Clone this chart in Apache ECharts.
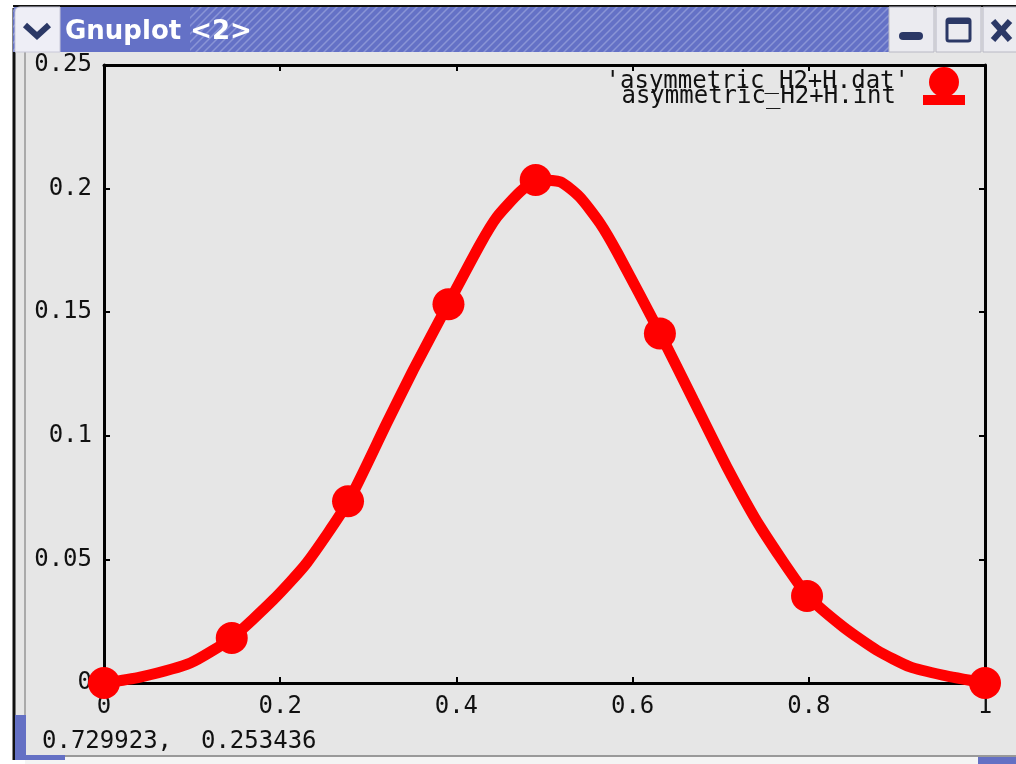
<!DOCTYPE html>
<html>
<head>
<meta charset="utf-8">
<script src="https://cdn.jsdelivr.net/npm/echarts@6/dist/echarts.min.js"></script>
<style>
  html, body { margin: 0; padding: 0; background: #fff; }
  #main { width: 1016px; height: 764px; }
</style>
</head>
<body>
<div id="main"></div>
<script>
// data
const datX = [0, 0.145, 0.277, 0.391, 0.490, 0.631, 0.798, 1]
const datY = [0, 0.0182, 0.0735, 0.1532, 0.2035, 0.1414, 0.0352, 0]

const intX = [0, 0.041, 0.098, 0.145, 0.192, 0.230, 0.277, 0.321, 0.351, 0.390, 0.427, 0.446, 0.472, 0.491, 0.518, 0.540, 0.563, 0.583, 0.631, 0.669, 0.707, 0.745, 0.798, 0.839, 0.877, 0.915, 0.952, 1]
const intY = [0, 0.0024, 0.0081, 0.0182, 0.0336, 0.0485, 0.0732, 0.1052, 0.1266, 0.1529, 0.1775, 0.1885, 0.1986, 0.2035, 0.2027, 0.1966, 0.1860, 0.1739, 0.1416, 0.1145, 0.0874, 0.0631, 0.0356, 0.0227, 0.0133, 0.0065, 0.0032, 0]

const seriesNames = ["'asymmetric_H2+H.dat'", 'asymmetric_H2+H.int']
const windowTitle = 'Gnuplot <2>'
const statusText = '0.729923,  0.253436'

const mono = "'DejaVu Sans Mono', monospace"

// hatch pattern for the title bar
const hatch = document.createElement('canvas')
hatch.width = 8
hatch.height = 8
const hctx = hatch.getContext('2d')
hctx.fillStyle = '#6471c6'
hctx.fillRect(0, 0, 8, 8)
hctx.strokeStyle = '#8a95d6'
hctx.lineWidth = 1.5
hctx.beginPath()
hctx.moveTo(0, 8); hctx.lineTo(8, 0)
hctx.moveTo(-2, 2); hctx.lineTo(2, -2)
hctx.moveTo(6, 10); hctx.lineTo(10, 6)
hctx.stroke()

const chart = echarts.init(document.getElementById('main'))

const axisCommon = {
  type: 'value',
  axisLine: { show: true, onZero: false, lineStyle: { color: '#000', width: 3 } },
  axisTick: { show: true, inside: true, length: 6, lineStyle: { color: '#000', width: 2 } },
  splitLine: { show: false },
}

const navy = '#2b3866'
const labelFont = { fontFamily: mono, fontSize: 24, color: '#111' }

chart.setOption({
  animation: false,
  backgroundColor: '#fff',
  grid: { left: 104, right: 31, top: 65, bottom: 81, show: true, backgroundColor: '#e6e6e6', borderWidth: 0 },
  legend: {
    orient: 'vertical',
    align: 'right',
    right: 51,
    top: 67,
    padding: 0,
    itemGap: -15,
    itemWidth: 42,
    itemHeight: 30,
    textStyle: Object.assign({ padding: [0, 9, 0, 0] }, labelFont),
    data: [
      { name: seriesNames[0], icon: 'circle' },
      {
        name: seriesNames[1],
        icon: 'path://M0,0L0.5,0L0.5,0.01L0,0.01Z M0,13L42,13L42,23L0,23Z M0,29.99L0.5,29.99L0.5,30L0,30Z',
        textStyle: { padding: [0, 22, 0, 0] },
      },
    ],
  },
  xAxis: [
    Object.assign({}, axisCommon, {
      position: 'bottom', min: 0, max: 1, interval: 0.2,
      axisLabel: Object.assign({ margin: 12 }, labelFont),
    }),
    Object.assign({}, axisCommon, {
      position: 'top', min: 0, max: 1, interval: 0.2,
      axisLabel: { show: false },
    }),
  ],
  yAxis: [
    Object.assign({}, axisCommon, {
      position: 'left', min: 0, max: 0.25, interval: 0.05,
      axisLabel: Object.assign({ margin: 12 }, labelFont),
    }),
    Object.assign({}, axisCommon, {
      position: 'right', min: 0, max: 0.25, interval: 0.05,
      axisLabel: { show: false },
    }),
  ],
  series: [
    {
      name: seriesNames[1],
      type: 'line',
      smooth: 0.2,
      showSymbol: false,
      clip: false,
      z: 3,
      lineStyle: { color: '#ff0000', width: 11 },
      itemStyle: { color: '#ff0000' },
      data: intX.map((x, i) => [x, intY[i]]),
    },
    {
      name: seriesNames[0],
      type: 'scatter',
      symbol: 'circle',
      symbolSize: 32,
      clip: false,
      z: 4,
      itemStyle: { color: '#ff0000', opacity: 1 },
      data: datX.map((x, i) => [x, datY[i]]),
    },
  ],
  graphic: [
    // window body and frame
    { type: 'rect', z: -10, shape: { x: 13, y: 5, width: 1010, height: 755 }, style: { fill: '#e6e6e6' } },
    { type: 'line', shape: { x1: 14, y1: 8, x2: 14, y2: 760 }, style: { stroke: '#111', lineWidth: 3 } },
    { type: 'line', shape: { x1: 25, y1: 52, x2: 25, y2: 756 }, style: { stroke: '#aaa', lineWidth: 2 } },
    { type: 'line', shape: { x1: 25, y1: 756, x2: 1016, y2: 756 }, style: { stroke: '#999', lineWidth: 2 } },
    { type: 'rect', shape: { x: 25, y: 757, width: 991, height: 7 }, style: { fill: '#f4f4f4' } },
    { type: 'rect', shape: { x: 15, y: 715, width: 11, height: 43 }, style: { fill: '#6470c4' } },
    { type: 'rect', shape: { x: 15, y: 755, width: 50, height: 5 }, style: { fill: '#6470c4' } },
    { type: 'rect', shape: { x: 978, y: 757, width: 38, height: 7 }, style: { fill: '#6470c4' } },
    // title bar
    { type: 'rect', shape: { x: 13, y: 5, width: 880, height: 47, r: [6, 0, 0, 0] }, style: { fill: { image: hatch, repeat: 'repeat' } } },
    { type: 'rect', shape: { x: 60, y: 5, width: 130, height: 47 }, style: { fill: '#6471c6' } },
    { type: 'line', shape: { x1: 13, y1: 6, x2: 1016, y2: 6 }, style: { stroke: '#111', lineWidth: 2 } },
    { type: 'rect', shape: { x: 15, y: 7, width: 45, height: 45, r: [5, 0, 0, 0] }, style: { fill: '#eeeef6', stroke: '#c8c8d8' } },
    { type: 'polyline', shape: { points: [[25, 25], [37, 36], [49, 25]] }, style: { stroke: navy, lineWidth: 6, fill: null } },
    { type: 'text', x: 65, y: 32, style: { text: windowTitle, fill: '#fff', font: "bold 26px 'DejaVu Sans', sans-serif", verticalAlign: 'middle' } },
    // window buttons
    { type: 'rect', shape: { x: 889, y: 7, width: 45, height: 45 }, style: { fill: '#ebebf0', stroke: '#b8b8c4' } },
    { type: 'rect', shape: { x: 936, y: 7, width: 45, height: 45 }, style: { fill: '#ebebf0', stroke: '#b8b8c4' } },
    { type: 'rect', shape: { x: 983, y: 7, width: 40, height: 45 }, style: { fill: '#ebebf0', stroke: '#b8b8c4' } },
    { type: 'rect', shape: { x: 899, y: 32, width: 24, height: 8, r: 4 }, style: { fill: navy } },
    { type: 'rect', shape: { x: 947, y: 19, width: 23, height: 22, r: 2 }, style: { fill: 'none', stroke: navy, lineWidth: 3 } },
    { type: 'rect', shape: { x: 947, y: 18, width: 23, height: 6 }, style: { fill: navy } },
    { type: 'line', shape: { x1: 993, y1: 21, x2: 1010, y2: 40 }, style: { stroke: navy, lineWidth: 6 } },
    { type: 'line', shape: { x1: 1010, y1: 21, x2: 993, y2: 40 }, style: { stroke: navy, lineWidth: 6 } },
    // status line
    { type: 'text', x: 42, y: 742, style: { text: statusText, fill: '#111', font: '24px ' + mono, verticalAlign: 'middle' } },
  ],
})
</script>
</body>
</html>
